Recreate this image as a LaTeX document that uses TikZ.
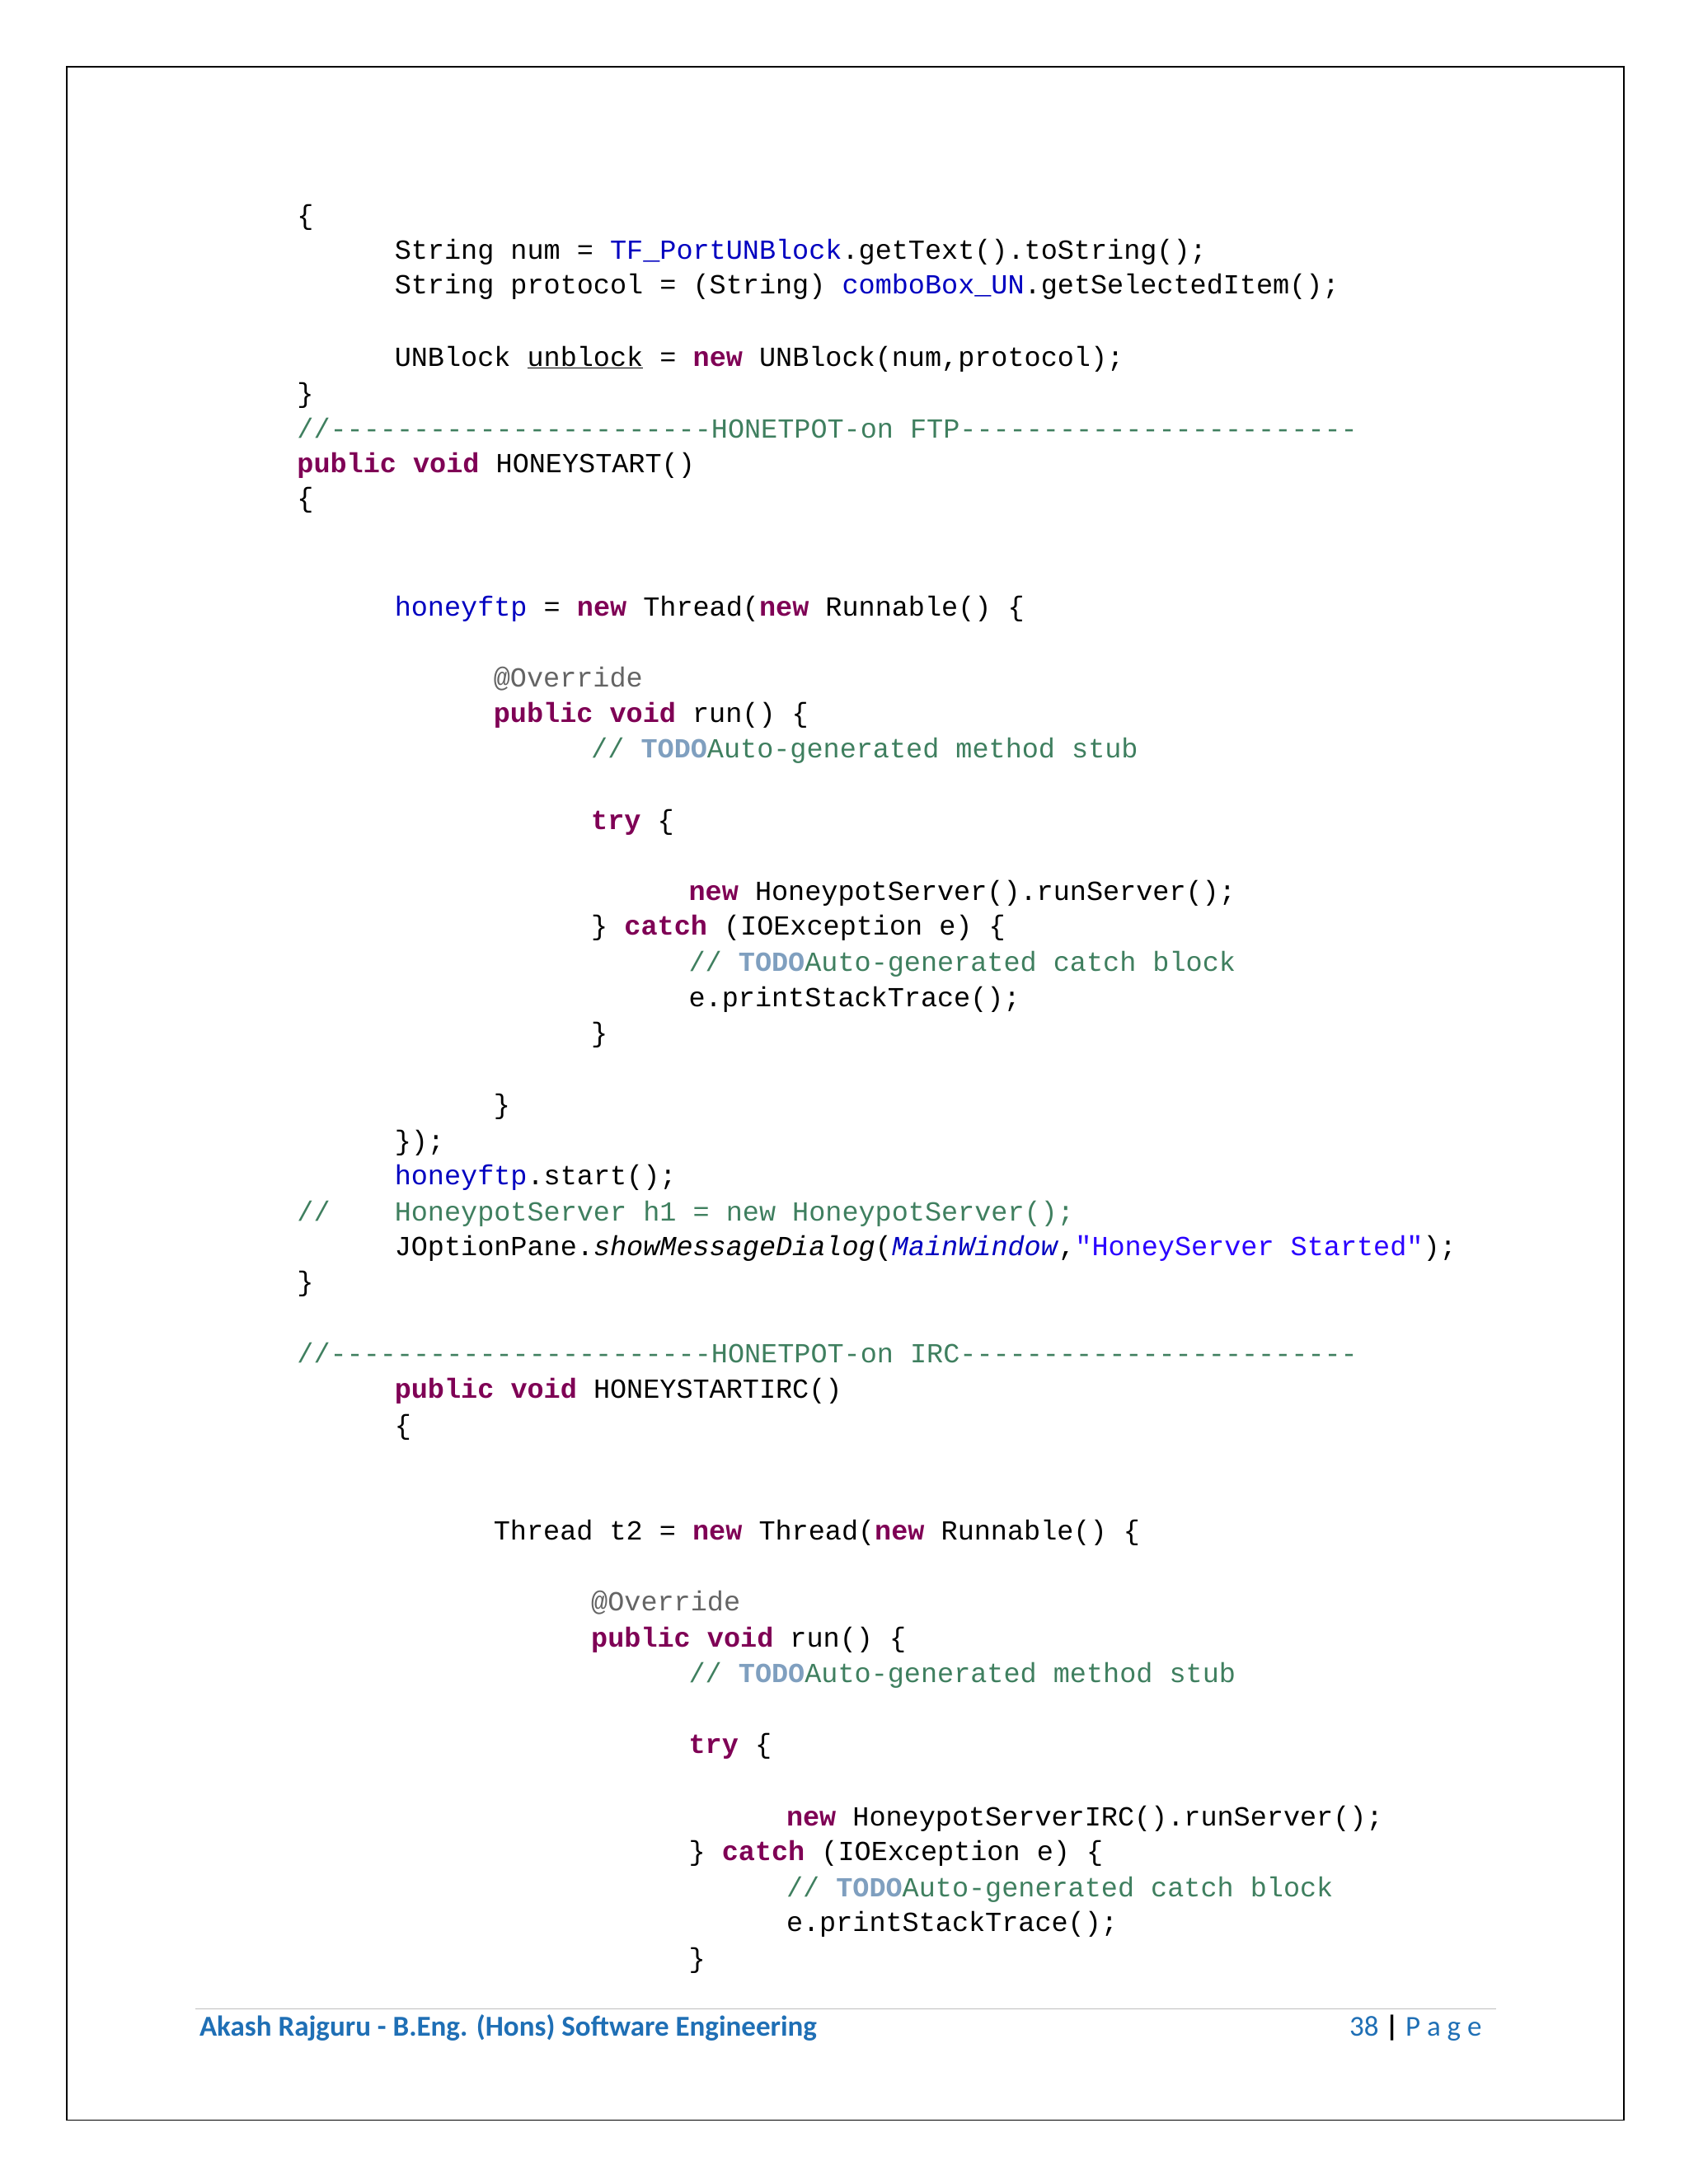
\documentclass[tikz,border=0pt]{standalone}
\usepackage{fontspec}
\usepackage{xcolor}
\newfontfamily\code{Liberation Mono}[WordSpace={1,0,0}]
\newfontfamily\foot{Carlito}
\definecolor{kw}{HTML}{7F0055}
\definecolor{fld}{HTML}{0000C0}
\definecolor{cmt}{HTML}{3F7F5F}
\definecolor{todo}{HTML}{7F9FBF}
\definecolor{str}{HTML}{2A00FF}
\definecolor{ann}{HTML}{646464}
\definecolor{footblue}{HTML}{1F6FB5}
\newcommand\kw[1]{\textcolor{kw}{\textbf{#1}}}
\newcommand\fl[1]{\textcolor{fld}{#1}}
\newcommand\cm[1]{\textcolor{cmt}{#1}}
\newcommand\td{\textcolor{todo}{\textbf{TODO}}}
\newcommand\st[1]{\textcolor{str}{#1}}
\tikzset{codeline/.style={anchor=base west, inner sep=0pt, font=\code\fontsize{33.5}{36}\selectfont}}
\begin{document}
\begin{tikzpicture}[x=1.6911pt,y=-1.6911pt]
\useasboundingbox (0,0) rectangle (1211.1,1567);
\draw[line width=1.4pt] (48,48) rectangle (1165,1521);
\def\a{213}\def\b{283}\def\c{354}\def\d{424}\def\e{494}\def\f{564}
\node[codeline] (l1) at (\a,161) {\{};
\node[codeline] (l2) at (\b,186) {String num = \fl{TF\_PortUNBlock}.getText().toString();};
\node[codeline] (l3) at (\b,211) {String protocol = (String) \fl{comboBox\_UN}.getSelectedItem();};
\node[codeline] (l4) at (\b,263) {UNBlock \underline{unblock} = \kw{new} UNBlock(num,protocol);};
\node[codeline] (l5) at (\a,289) {\}};
\node[codeline] (l6) at (\a,314) {\cm{//-----------------------HONETPOT-on FTP------------------------}};
\node[codeline] (l7) at (\a,339) {\kw{public} \kw{void} HONEYSTART()};
\node[codeline] (l8) at (\a,364) {\{};
\node[codeline] (l9) at (\b,442) {\fl{honeyftp} = \kw{new} Thread(\kw{new} Runnable() \{};
\node[codeline] (l10) at (\c,493) {\textcolor{ann}{@Override}};
\node[codeline] (l11) at (\c,518) {\kw{public} \kw{void} run() \{};
\node[codeline] (l12) at (\d,544) {\cm{// }\td\cm{ Auto-generated method stub}};
\node[codeline] (l13) at (\d,595) {\kw{try} \{};
\node[codeline] (l14) at (\e,646) {\kw{new} HoneypotServer().runServer();};
\node[codeline] (l15) at (\d,671) {\} \kw{catch} (IOException e) \{};
\node[codeline] (l16) at (\e,697) {\cm{// }\td\cm{ Auto-generated catch block}};
\node[codeline] (l17) at (\e,722) {e.printStackTrace();};
\node[codeline] (l18) at (\d,748) {\}};
\node[codeline] (l19) at (\c,799) {\}};
\node[codeline] (l20) at (\b,825) {\});};
\node[codeline] (l21) at (\b,850) {\fl{honeyftp}.start();};
\node[codeline] (l22a) at (\a,876) {\cm{//}};
\node[codeline] (l22) at (\b,876) {\cm{HoneypotServer h1 = new HoneypotServer();}};
\node[codeline] (l23) at (\b,901) {JOptionPane.\textit{showMessageDialog}(\fl{\textit{MainWindow}},\st{"HoneyServer Started"});};
\node[codeline] (l24) at (\a,926) {\}};
\node[codeline] (l25) at (\a,978) {\cm{//-----------------------HONETPOT-on IRC------------------------}};
\node[codeline] (l26) at (\b,1003) {\kw{public} \kw{void} HONEYSTARTIRC()};
\node[codeline] (l27) at (\b,1029) {\{};
\node[codeline] (l28) at (\c,1105) {Thread t2 = \kw{new} Thread(\kw{new} Runnable() \{};
\node[codeline] (l29) at (\d,1156) {\textcolor{ann}{@Override}};
\node[codeline] (l30) at (\d,1182) {\kw{public} \kw{void} run() \{};
\node[codeline] (l31) at (\e,1207) {\cm{// }\td\cm{ Auto-generated method stub}};
\node[codeline] (l32) at (\e,1258) {\kw{try} \{};
\node[codeline] (l33) at (\f,1310) {\kw{new} HoneypotServerIRC().runServer();};
\node[codeline] (l34) at (\e,1335) {\} \kw{catch} (IOException e) \{};
\node[codeline] (l35) at (\f,1361) {\cm{// }\td\cm{ Auto-generated catch block}};
\node[codeline] (l36) at (\f,1386) {e.printStackTrace();};
\node[codeline] (l37) at (\e,1412) {\}};
\draw[gray!50, line width=0.8pt] (140,1441) -- (1073,1441);
\node[anchor=base west, inner sep=0pt, text=footblue, font=\foot\bfseries\fontsize{35}{40}\selectfont] (ft) at (143,1461) {Akash Rajguru - B.Eng. (Hons) Software Engineering};
\node[anchor=base east, inner sep=0pt, text=footblue, font=\foot\fontsize{35}{40}\selectfont] (pg) at (1063,1461) {38 \textcolor{black}{\textbf{|}} P a g e};
\end{tikzpicture}
\end{document}
